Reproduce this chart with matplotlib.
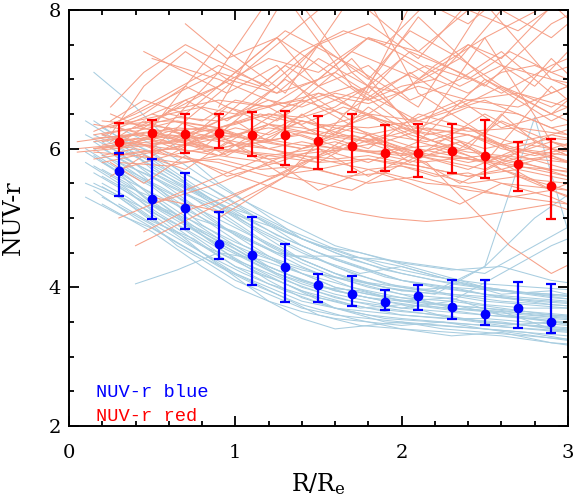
import matplotlib
matplotlib.use("Agg")
import matplotlib.pyplot as plt
from matplotlib.ticker import MultipleLocator
import numpy as np

# ------------------------------
# data
# ------------------------------

# binned medians with error bars
r_bins = [0.3, 0.5, 0.7, 0.9, 1.1, 1.3, 1.5, 1.7, 1.9, 2.1, 2.3, 2.5, 2.7, 2.9]

red_mid = [6.10, 6.23, 6.21, 6.23, 6.20, 6.20, 6.11, 6.04, 5.93, 5.93, 5.97, 5.90, 5.78, 5.46]
red_hi = [6.37, 6.41, 6.50, 6.50, 6.53, 6.54, 6.47, 6.50, 6.34, 6.36, 6.35, 6.42, 6.10, 6.14]
red_lo = [5.92, 5.85, 5.94, 6.01, 5.90, 5.76, 5.70, 5.67, 5.68, 5.59, 5.65, 5.58, 5.39, 4.99]

blue_mid = [5.68, 5.28, 5.14, 4.62, 4.47, 4.30, 4.03, 3.90, 3.79, 3.87, 3.72, 3.62, 3.70, 3.50]
blue_hi = [5.94, 5.85, 5.65, 5.09, 5.01, 4.62, 4.19, 4.16, 3.96, 4.04, 4.11, 4.11, 4.08, 4.05]
blue_lo = [5.31, 4.99, 4.84, 4.41, 4.04, 3.79, 3.79, 3.73, 3.67, 3.67, 3.54, 3.46, 3.41, 3.34]

# radial grids of the individual profiles
grid_ra = [0.2, 0.4, 0.6, 0.8, 1.0, 1.2, 1.4, 1.6, 1.8, 2.0, 2.2, 2.4, 2.6, 2.8, 3.0, 3.2]
grid_rb = [0.3, 0.6, 0.9, 1.2, 1.5, 1.8, 2.1, 2.4, 2.7, 3.0, 3.3]
grid_rc = [0.15, 0.4, 0.65, 0.9, 1.15, 1.4, 1.65, 1.9, 2.15, 2.4, 2.65, 2.9, 3.15]
grid_rd = [0.05, 0.5, 0.9, 1.3, 1.7, 2.1, 2.5, 2.9, 3.3]
grid_re = [0.25, 0.45, 0.7, 0.95, 1.25, 1.5, 1.8, 2.05, 2.35, 2.6, 2.9, 3.2]

grid_ba = [0.2, 0.35, 0.5, 0.65, 0.8, 1.0, 1.2, 1.4, 1.6, 1.8, 2.0, 2.25, 2.5, 2.75, 3.0, 3.2]
grid_bb = [0.15, 0.4, 0.65, 0.9, 1.15, 1.4, 1.7, 2.0, 2.3, 2.6, 2.9, 3.2]
grid_bc = [0.3, 0.55, 0.8, 1.05, 1.3, 1.6, 1.9, 2.2, 2.5, 2.8, 3.1]
grid_be = [0.1, 0.3, 0.5, 0.75, 1.0, 1.25, 1.5, 1.75, 2.0, 2.3, 2.6, 2.9, 3.2]

# individual red galaxy profiles
red_ra = [
    [6.2, 6.3, 6.25, 6.3, 6.2, 6.35, 6.3, 6.2, 6.1, 6.0, 6.05, 5.95, 5.9, 5.85, 5.8, 5.8],
    [6.0, 6.1, 6.2, 6.15, 6.3, 6.2, 6.4, 6.3, 6.2, 6.3, 6.1, 6.2, 6.0, 5.9, 6.0, 6.1],
    [6.3, 6.4, 6.5, 6.6, 6.5, 6.7, 6.6, 6.8, 6.7, 6.9, 7.0, 6.8, 7.1, 7.2, 7.0, 7.3],
    [5.9, 6.0, 5.9, 6.0, 5.95, 5.85, 5.9, 5.8, 5.7, 5.75, 5.6, 5.65, 5.5, 5.45, 5.4, 5.5],
    [6.1, 6.2, 6.15, 6.25, 6.35, 6.5, 6.45, 6.6, 6.9, 6.8, 7.2, 7.5, 7.3, 7.8, 8.3, 8.5],
    [6.4, 6.35, 6.3, 6.2, 6.1, 6.0, 5.9, 5.85, 5.9, 5.8, 5.7, 5.6, 5.7, 5.55, 5.5, 5.4],
    [5.8, 5.9, 6.0, 5.95, 6.05, 6.0, 6.1, 6.0, 5.95, 5.9, 6.0, 5.85, 5.8, 5.7, 5.6, 5.5],
    [6.2, 6.1, 6.3, 6.0, 6.4, 6.1, 6.5, 6.2, 6.6, 6.3, 6.2, 6.0, 6.5, 6.1, 5.9, 6.0],
    [None, 6.3, 6.5, 6.4, 6.7, 6.6, 6.9, 7.1, 6.8, 7.3, 7.0, 7.5, 7.2, 6.9, 7.4, 7.6],
    [6.05, 6.15, 6.1, 6.2, 6.05, 6.1, 6.0, 6.1, 5.95, 6.0, 5.9, 5.8, 5.9, 5.75, 5.6, 5.7],
]
red_rb = [
    [6.1, 6.2, 6.0, 5.9, 5.8, 5.85, 5.7, 5.5, 5.6, 5.3, 5.2],
    [6.3, 6.6, 6.9, 7.3, 7.1, 7.6, 7.4, 8.0, 7.7, 8.2, 8.4],
    [5.9, 6.0, 6.2, 6.1, 6.3, 6.5, 6.4, 6.7, 6.6, 6.9, 7.0],
    [6.2, 5.9, 6.3, 6.0, 5.8, 6.2, 5.9, 5.7, 6.0, 5.8, 5.6],
    [6.0, 6.25, 6.1, 6.35, 6.2, 6.1, 6.3, 6.2, 6.0, 5.9, 5.8],
    [6.4, 6.8, 7.2, 6.9, 7.5, 7.8, 7.3, 8.1, 8.5, 8.0, 8.4],
    [5.7, 5.9, 5.8, 5.6, 5.7, 5.5, 5.6, 5.4, 5.3, 5.2, 5.1],
    [6.1, 6.0, 6.15, 6.3, 6.2, 6.45, 6.3, 6.6, 6.5, 6.2, 6.4],
    [5.0, 5.3, 5.6, 5.9, 6.0, 5.8, 6.1, 5.9, 5.6, 5.4, 5.5],
    [6.3, 6.1, 6.4, 6.6, 6.2, 6.0, 6.5, 6.3, 5.9, 5.7, 5.8],
    [5.8, 5.75, 5.9, 5.8, 5.7, 5.85, 5.75, 5.6, 5.7, 5.55, 5.5],
    [6.35, 6.4, 6.3, 6.5, 6.35, 6.3, 6.4, 6.25, 6.3, 6.2, 6.1],
    [None, 6.55, 6.7, 6.6, 6.8, 6.65, 6.9, 6.7, 6.8, 6.6, 6.7],
]
red_rc = [
    [6.0, 6.05, 6.1, 6.0, 6.15, 6.05, 6.0, 5.95, 5.9, 5.85, 5.75, 5.7, 5.6],
    [6.2, 6.3, 6.45, 6.4, 6.6, 6.7, 6.5, 6.9, 7.2, 7.0, 7.4, 7.1, 7.3],
    [5.95, 5.9, 5.8, 5.85, 5.7, 5.75, 5.6, 5.65, 5.5, 5.45, 5.3, 5.4, 5.2],
    [6.35, 6.25, 6.4, 6.3, 6.5, 6.35, 6.6, 6.4, 6.2, 6.3, 6.1, 6.0, 5.9],
    [None, 4.6, 4.9, 5.2, 5.5, 5.8, 6.0, 6.2, 6.1, 6.3, 6.0, 5.9, 6.1],
    [6.1, 6.2, 6.0, 6.3, 6.1, 6.4, 6.2, 6.0, 5.8, 5.2, 4.6, 4.2, 4.5],
    [5.85, 5.95, 6.0, 5.9, 6.1, 6.2, 6.0, 6.1, 5.9, 6.0, 5.8, 5.9, 5.7],
    [6.25, 6.5, 6.8, 7.1, 6.9, 7.4, 7.7, 7.5, 8.1, 7.8, 8.3, 8.6, 8.9],
    [6.0, 6.1, 5.9, 5.7, 5.5, 5.3, 5.1, 5.0, 4.95, 5.0, 5.1, 5.2, 5.0],
    [6.15, 6.2, 6.3, 6.25, 6.1, 6.0, 6.2, 6.1, 6.3, 6.2, 6.0, 6.15, 6.1],
]
red_rd = [
    [None, 6.0, 6.8, 7.6, 8.4],
    [6.0, 6.1, 6.0, 5.9, 6.0, 5.8, 5.9, 5.7, 5.6],
    [None, 6.3, 7.5, 6.8, 8.2, 7.4, 6.9, 7.8, 8.3],
    [None, 5.9, 6.4, 7.2, 6.6, 7.9, 7.0, 6.5, 7.3],
    [5.95, 6.05, 6.2, 5.6, 6.6, 6.1, 7.0, 6.4, 6.9],
    [None, 6.1, 7.1, 8.5],
    [None, 6.5, 6.2, 7.0, 6.4, 8.3],
    [None, None, 5.0, 5.6, 6.2, 5.9, 6.5, 6.0, 6.3],
    [6.1, 6.25, 5.9, 6.5, 7.3, 6.2, 5.8, 6.9, 6.1],
    [None, 6.4, 6.9, 7.7, 7.2, 6.6, 8.1, 7.0, 6.8],
    [None, None, None, 8.4, 7.1, 6.3, 6.0, 6.2, 6.5],
    [None, None, 6.6, 8.2, 6.9, 6.2, 7.6, 6.1, 5.9],
    [None, None, None, None, 8.6, 6.8, 6.2, 7.3, 6.4],
    [None, 6.2, 6.0, 6.6, 7.4, 7.0, 7.6, 8.1, 7.2],
    [None, 5.3, 5.1, 5.6, 5.4, 5.9, 5.7, 6.2, 6.0],
    [None, 7.3, 7.0, 6.6, 6.9, 6.4, 6.7, 6.3, 6.5],
    [None, 5.2, 5.5, 5.9, 6.3, 6.0, 5.8, 6.1, 5.7],
]
red_re = [
    [6.4, 6.7, 6.5, 7.0, 6.8, 7.3, 6.9, 7.4, 7.1, 6.8, 7.2, 7.5],
    [6.2, 6.9, 7.4, 7.0, 7.6, 7.2, 6.7, 7.1, 6.6, 6.9, 6.5, 6.8],
    [None, 7.4, 7.1, 6.8, 7.2, 6.6, 6.9, 6.4, 6.7, 6.3, 6.5, 6.2],
    [6.3, 6.5, 6.9, 6.6, 6.4, 6.8, 6.5, 6.9, 7.3, 6.9, 6.6, 7.0],
    [6.0, 6.3, 6.1, 6.6, 6.3, 6.1, 6.5, 6.2, 6.0, 6.4, 6.1, 5.9],
    [5.8, 5.5, 5.9, 5.6, 5.8, 5.4, 5.7, 5.5, 5.2, 5.5, 5.3, 5.0],
    [6.1, 6.4, 6.2, 5.9, 6.3, 6.6, 6.2, 5.8, 6.1, 5.7, 5.9, 5.6],
    [None, None, 7.8, 7.3, 7.6, 6.9, 7.2, 6.7, 7.0, 7.4, 6.8, 7.1],
    [5.6, 5.9, 5.7, 6.1, 5.8, 6.0, 5.6, 5.9, 5.5, 5.8, 5.4, 5.7],
    [6.5, 6.3, 6.7, 6.4, 6.9, 7.5, 7.0, 7.7, 7.3, 8.0, 7.6, 8.2],
    [None, 4.8, 5.1, 5.3, 5.6, 5.9, 6.2, 5.9, 6.1, 5.8, 6.0, 5.7],
    [6.6, 7.1, 7.5, 7.2, 6.8, 7.0, 7.6, 7.3, 6.9, 7.2, 7.0, 6.7],
]

# individual blue galaxy profiles
blue_ba = [
    [6.0, 5.8, 5.5, 5.2, 4.9, 4.6, 4.3, 4.1, 3.95, 3.85, 3.8, 3.7, 3.65, 3.6, 3.55, 3.5],
    [5.6, 5.4, 5.1, 4.85, 4.6, 4.3, 4.05, 3.9, 3.8, 3.7, 3.65, 3.6, 3.5, 3.45, 3.4, 3.4],
    [6.2, 6.0, 5.8, 5.6, 5.3, 5.0, 4.7, 4.4, 4.2, 4.05, 3.95, 3.9, 3.8, 3.75, 3.7, 3.65],
    [5.3, 5.1, 4.9, 4.6, 4.4, 4.1, 3.9, 3.7, 3.6, 3.55, 3.5, 3.45, 3.4, 3.35, 3.3, 3.3],
    [5.9, 5.75, 5.6, 5.35, 5.1, 4.75, 4.45, 4.2, 4.0, 3.9, 3.85, 3.75, 3.7, 3.65, 3.6, 3.55],
    [5.7, 5.5, 5.2, 5.0, 4.75, 4.4, 4.1, 3.85, 3.7, 3.6, 3.55, 3.5, 3.4, 3.35, 3.25, 3.2],
    [6.3, 6.1, 5.95, 5.7, 5.5, 5.2, 4.9, 4.6, 4.4, 4.25, 4.1, 4.0, 3.9, 3.85, 3.8, 3.8],
    [5.5, 5.3, 5.05, 4.8, 4.5, 4.15, 3.8, 3.55, 3.4, 3.45, 3.5, 3.4, 3.35, 3.3, 3.25, 3.2],
    [6.1, 5.85, 5.65, 5.45, 5.2, 4.9, 4.6, 4.35, 4.15, 4.0, 3.9, 3.85, 3.75, 3.7, 3.7, 3.65],
    [5.2, 5.0, 4.8, 4.55, 4.3, 4.0, 3.8, 3.65, 3.55, 3.5, 3.45, 3.5, 3.45, 3.4, 3.35, 3.3],
    [5.8, 5.6, 5.3, 5.05, 4.8, 4.5, 4.25, 4.05, 3.9, 3.8, 3.7, 3.65, 3.6, 3.55, 3.5, 3.45],
    [5.45, 5.25, 5.0, 4.75, 4.5, 4.2, 4.0, 3.8, 3.7, 3.65, 3.6, 3.55, 3.55, 3.5, 3.45, 3.4],
]
blue_bb = [
    [5.9, 5.5, 5.1, 4.7, 4.35, 4.1, 3.9, 3.75, 3.7, 3.65, 3.6, 3.55],
    [6.4, 6.0, 5.6, 5.2, 4.8, 4.5, 4.2, 4.0, 3.9, 3.85, 3.8, 3.75],
    [5.5, 5.2, 4.9, 4.5, 4.2, 3.95, 3.75, 3.6, 3.55, 3.5, 3.4, 3.35],
    [6.1, 5.7, 5.4, 5.1, 4.7, 4.4, 4.1, 3.95, 4.0, 3.85, 3.75, 3.7],
    [5.75, 5.4, 5.0, 4.6, 4.3, 4.0, 3.8, 3.7, 3.8, 4.2, 4.6, 4.9],
    [6.2, 5.9, 5.5, 5.2, 5.0, 4.7, 4.45, 4.3, 4.1, 3.95, 3.9, 3.85],
    [5.4, 5.0, 4.65, 4.3, 4.0, 3.75, 3.55, 3.4, 3.35, 3.3, 3.2, 3.15],
    [6.0, 5.6, 5.3, 4.9, 4.6, 4.3, 4.0, 3.8, 3.75, 3.6, 3.5, 3.45],
    [None, 4.05, 4.25, 4.5, 4.4, 4.2, 4.0, 3.85, 3.8, 3.7, 3.6, 3.55],
    [7.1, 6.6, 6.0, 5.5, 5.1, 4.7, 4.4, 4.2, 4.05, 3.95, 3.85, 3.8],
    [5.65, 5.3, 5.0, 4.7, 4.45, 4.25, 4.1, 4.0, 3.9, 3.8, 3.75, 3.7],
]
blue_bc = [
    [5.8, 5.4, 5.0, 4.6, 4.3, 4.0, 3.85, 3.75, 3.7, 3.6, 3.55],
    [5.5, 5.1, 4.75, 4.45, 4.2, 3.95, 3.8, 3.7, 3.6, 3.55, 3.45],
    [6.0, 5.7, 5.35, 5.0, 4.7, 4.4, 4.15, 4.0, 3.9, 3.8, 3.75],
    [5.3, 4.9, 4.6, 4.35, 4.1, 3.85, 3.7, 3.6, 3.5, 3.45, 3.4],
    [5.9, 5.6, 5.3, 4.95, 4.65, 4.3, 4.05, 3.95, 4.3, 5.0, 5.5],
    [5.6, 5.3, 5.0, 4.7, 4.45, 4.45, 4.4, 4.2, 4.0, 3.9, 3.8],
    [6.2, 5.85, 5.5, 5.15, 4.85, 4.55, 4.3, 4.15, 4.05, 4.0, 3.95],
    [5.45, 5.05, 4.7, 4.35, 4.05, 3.7, 3.5, 3.45, 3.4, 3.3, 3.2],
    [5.75, 5.45, 5.1, 4.8, 4.5, 4.2, 4.0, 3.9, 4.3, 6.45, 4.0],
    [6.1, 5.8, 5.4, 5.1, 4.8, 4.5, 4.25, 4.1, 4.0, 3.9, 3.85],
    [5.2, 4.85, 4.5, 4.2, 3.95, 3.7, 3.55, 3.5, 3.45, 3.4, 3.35],
    [6.3, 6.0, 5.6, 5.25, 4.95, 4.6, 4.4, 4.3, 4.2, 4.6, 5.0],
]
blue_be = [
    [6.0, 5.7, 5.45, 5.0, 4.8, 4.5, 4.4, 4.2, 4.3, 4.1, 3.9, 3.95, 3.8],
    [5.5, 5.3, 4.95, 4.7, 4.3, 4.1, 3.85, 3.7, 3.75, 3.55, 3.45, 3.5, 3.4],
    [6.2, 5.95, 5.6, 5.3, 5.05, 4.85, 4.6, 4.5, 4.35, 4.25, 4.3, 4.1, 4.0],
    [5.8, 5.5, 5.3, 4.85, 4.55, 4.2, 4.0, 3.95, 3.8, 3.85, 3.6, 3.55, 3.5],
    [5.3, 5.05, 4.85, 4.5, 4.2, 3.9, 3.6, 3.45, 3.4, 3.3, 3.35, 3.2, 3.1],
    [5.95, 5.65, 5.2, 4.95, 4.65, 4.4, 4.2, 4.05, 3.9, 3.7, 3.65, 3.4, 3.35],
    [6.4, 6.1, 5.7, 5.4, 5.1, 4.75, 4.5, 4.3, 4.1, 4.0, 3.95, 3.9, 3.85],
]

# ------------------------------
# plot
# ------------------------------

plt.rcParams["font.family"] = "DejaVu Serif"
plt.rcParams["mathtext.fontset"] = "dejavuserif"

fig = plt.figure(figsize=(5.88, 5.04), dpi=100)
ax = fig.add_axes([0.1173, 0.1548, 0.8486, 0.8254])

thin_blue = "#a8cde0"
thin_red = "#f6a088"


def draw_profiles(grid, profiles, color):
    for prof in profiles:
        y = np.array(prof, dtype=float)
        x = np.array(grid[:len(y)], dtype=float)
        ax.plot(x, y, color=color, lw=0.75, zorder=1)


draw_profiles(grid_ba, blue_ba, thin_blue)
draw_profiles(grid_bb, blue_bb, thin_blue)
draw_profiles(grid_bc, blue_bc, thin_blue)
draw_profiles(grid_be, blue_be, thin_blue)
draw_profiles(grid_ra, red_ra, thin_red)
draw_profiles(grid_rb, red_rb, thin_red)
draw_profiles(grid_rc, red_rc, thin_red)
draw_profiles(grid_rd, red_rd, thin_red)
draw_profiles(grid_re, red_re, thin_red)

for mid, lo, hi, col in [(red_mid, red_lo, red_hi, "#ff0000"),
                         (blue_mid, blue_lo, blue_hi, "#0000ff")]:
    mid = np.array(mid)
    err = [mid - np.array(lo), np.array(hi) - mid]
    ax.errorbar(r_bins, mid, yerr=err, fmt="o", color=col, ms=6,
                elinewidth=1.6, capsize=3.8, capthick=1.6, zorder=3)

ax.text(0.16, 2.42, "NUV-r blue", color="#0000ff", fontsize=13.5,
        family="Liberation Mono")
ax.text(0.16, 2.07, "NUV-r red", color="#ff0000", fontsize=13.5,
        family="Liberation Mono")

ax.set_xlim(0, 3)
ax.set_ylim(2, 8)
ax.xaxis.set_major_locator(MultipleLocator(1))
ax.xaxis.set_minor_locator(MultipleLocator(0.2))
ax.yaxis.set_major_locator(MultipleLocator(2))
ax.yaxis.set_minor_locator(MultipleLocator(0.5))
ax.tick_params(which="both", direction="in", top=True, right=True, width=1.3)
ax.tick_params(which="major", length=7)
ax.tick_params(which="minor", length=3.5)
ax.tick_params(axis="x", which="major", pad=13, labelsize=14)
ax.tick_params(axis="y", which="major", pad=6, labelsize=14)
for s in ax.spines.values():
    s.set_linewidth(1.4)

ax.set_xlabel(r"R/R$_\mathrm{e}$", fontsize=17)
ax.set_ylabel("NUV-r", fontsize=17)
ax.xaxis.set_label_coords(0.5, -0.108)
ax.yaxis.set_label_coords(-0.088, 0.5)

plt.savefig("out.png", dpi=100)
plt.close()
